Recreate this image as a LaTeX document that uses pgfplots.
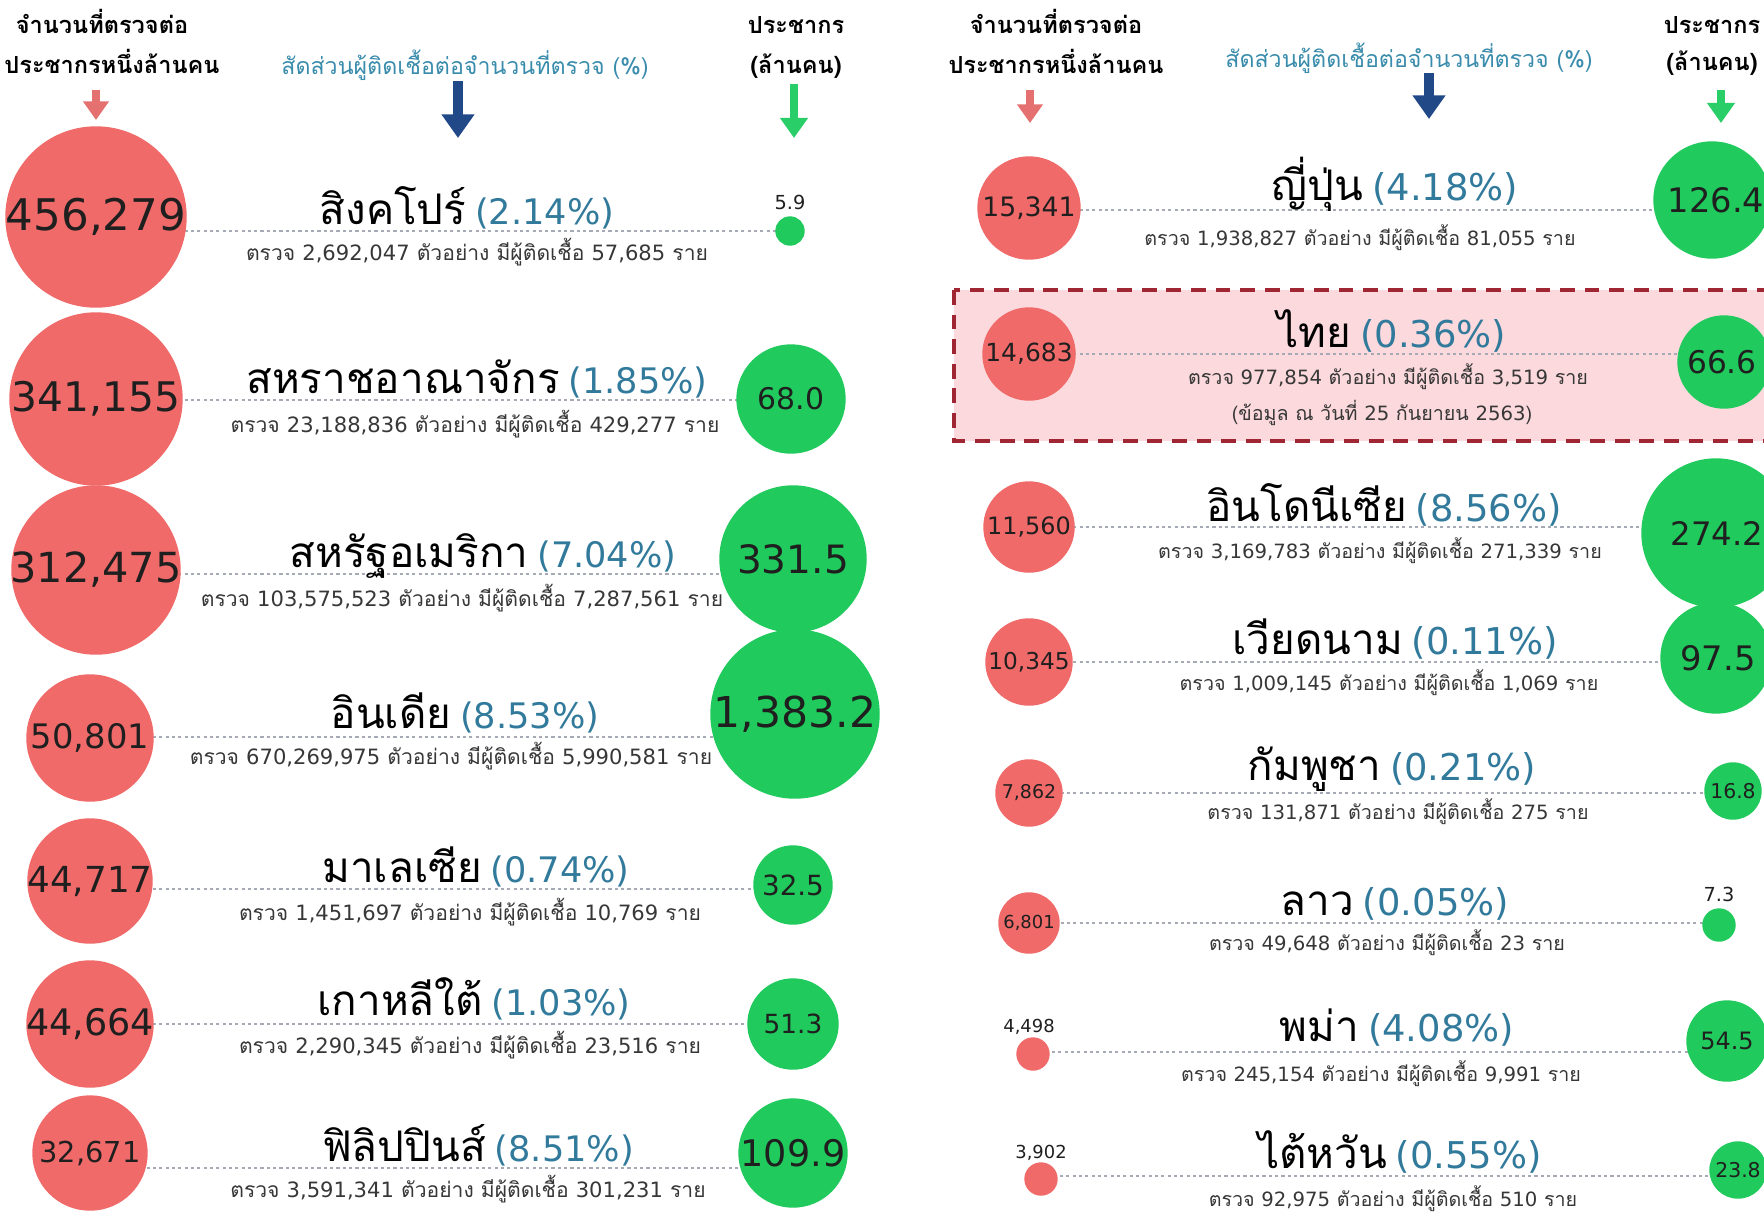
\documentclass[border=0pt]{standalone}
\usepackage{fontspec}
\usepackage{pgfplots}
\pgfplotsset{compat=1.18}
\usepackage{pgfplotstable}
\usetikzlibrary{arrows.meta}
\setmainfont{DejaVu Sans}
\newfontfamily\thaifont[Script=Thai]{Loma}
\newfontfamily\dvfont{DejaVu Sans}

\definecolor{redb}{RGB}{241,106,106}
\definecolor{greenb}{RGB}{32,202,92}
\definecolor{arrred}{RGB}{229,112,112}
\definecolor{arrblue}{RGB}{33,72,135}
\definecolor{arrgreen}{RGB}{42,206,104}
\definecolor{pctc}{RGB}{50,122,155}
\definecolor{hdrc}{RGB}{58,140,172}
\definecolor{boxfill}{RGB}{251,217,220}
\definecolor{boxline}{RGB}{160,38,52}
\definecolor{dotc}{RGB}{165,170,180}
\definecolor{subc}{RGB}{55,55,55}

\newcommand{\hdr}{\fontsize{6.7}{8}\thaifont\bfseries}
\newcommand{\hdrm}{\fontsize{6.6}{8}\thaifont}
\newcommand{\nmL}[2]{{\fontsize{12}{14}\thaifont #1}\hspace{0.25em}{\fontsize{10}{12}\dvfont\color{pctc}(#2\%)}}
\newcommand{\nmR}[2]{{\fontsize{12}{14}\thaifont #1}\hspace{0.25em}{\fontsize{10.5}{12}\dvfont\color{pctc}(#2\%)}}
\newcommand{\subL}[2]{{\fontsize{6}{7}\thaifont\color{subc}ตรวจ {\dvfont #1} ตัวอย่าง มีผู้ติดเชื้อ {\dvfont #2} ราย}}
\newcommand{\subR}[2]{{\fontsize{5.6}{7}\thaifont\color{subc}ตรวจ {\dvfont #1} ตัวอย่าง มีผู้ติดเชื้อ {\dvfont #2} ราย}}

% bubbles: x y r (pixels)
\pgfplotstableread{
x y r
96 217 90
96 399 86
96 570 84
90 738 63
90 881 62
90 1024 63
90 1153 57
}\redL
\pgfplotstableread{
x y fs lab
96 217 12.4 456,279
96 399 11.6 341,155
96 570 11.8 312,475
90 738 9.6 50,801
90 881 10.2 44,717
90 1024 10.4 44,664
90 1153 8.2 32,671
}\redLlab
\pgfplotstableread{
x y r
790 231 14
791 399 54
793 559 73
795 714 84
793 885 39
793 1024 45
793 1153 54
}\greenL
\pgfplotstableread{
x y fs lab
790 202 5.5 5.9
791 399 8.5 68.0
793 559 11.1 331.5
795 714 12.1 1,383.2
793 885 7.9 32.5
793 1024 7.5 51.3
793 1153 10.4 109.9
}\greenLlab
\pgfplotstableread{
x y r
1029 208 51
1029 354 46
1029 527 45
1029 662 43
1029 793 33
1029 923 30
1033 1054 16
1041 1179 16
}\redR
\pgfplotstableread{
x y fs lab
1029 208 7.6 15,341
1029 354 7.1 14,683
1029 527 6.8 11,560
1029 662 6.6 10,345
1029 793 5.4 7,862
1029 923 5.1 6,801
1029 1027 5.1 4,498
1041 1153 5.1 3,902
}\redRlab
\pgfplotstableread{
x y r
1712 200 58
1724 362 46
1716 533 74
1716 658 55
1733 791 28
1719 925 16
1727 1041 40
1738 1170 28
}\greenR
\pgfplotstableread{
x y fs lab
1716 200 9.6 126.4
1722 362 8.9 66.6
1717 533 9.2 274.2
1718 658 9.6 97.5
1733 791 5.8 16.8
1719 894 5.5 7.3
1727 1041 6.8 54.5
1738 1170 5.8 23.8
}\greenRlab

\pgfplotsset{
  bubble/.style={scatter, only marks, mark=*, point meta=\thisrow{r},
    scatter/use mapped color={draw=#1, fill=#1},
    visualization depends on={\thisrow{r}\as\rr},
    scatter/@pre marker code/.append style={/tikz/mark size=\rr*0.28453pt}},
  lbl/.style={only marks, mark=none, point meta=explicit symbolic,
    visualization depends on={\thisrow{fs}\as\lfs},
    nodes near coords,
    every node near coord/.append style={anchor=center, inner sep=0pt, text=black!88,
      font=\dvfont\fontsize{\lfs}{\lfs}\selectfont}},
  dotl/.style={dotc, line width=0.6pt, dash pattern=on 0.9pt off 0.9pt},
  arr/.style={line width=#1, -{Triangle[width=3.2*#1, length=2.4*#1]}},
}

\begin{document}
\begin{tikzpicture}
\begin{axis}[width=17.64cm, height=12.15cm, scale only axis,
  xmin=0, xmax=1764, ymin=0, ymax=1215, y dir=reverse,
  hide axis, clip=true]
\coordinate (pSW) at (axis cs:0,1215);
\coordinate (pNE) at (axis cs:1764,0);

% highlighted Thailand box
\draw[boxline, fill=boxfill, line width=0.9pt, dash pattern=on 4.2pt off 2.8pt]
  (axis cs:954,290) rectangle (axis cs:1790,441);

% header arrows
\addplot[arrred, arr=2.2pt] coordinates {(96,90) (96,120)};
\addplot[arrblue, arr=2.8pt] coordinates {(458,81) (458,138)};
\addplot[arrgreen, arr=2.4pt] coordinates {(794,84) (794,138)};
\addplot[arrred, arr=2.2pt] coordinates {(1030,90) (1030,123)};
\addplot[arrblue, arr=2.8pt] coordinates {(1429,73) (1429,119)};
\addplot[arrgreen, arr=2.4pt] coordinates {(1721,90) (1721,123)};

% dotted connectors
\addplot[dotl] coordinates {(96,231) (791,231)};
\addplot[dotl] coordinates {(96,400) (791,400)};
\addplot[dotl] coordinates {(96,574) (791,574)};
\addplot[dotl] coordinates {(96,737) (791,737)};
\addplot[dotl] coordinates {(96,889) (791,889)};
\addplot[dotl] coordinates {(96,1024) (791,1024)};
\addplot[dotl] coordinates {(96,1168) (791,1168)};
\addplot[dotl] coordinates {(1029,210) (1720,210)};
\addplot[dotl] coordinates {(1029,354) (1720,354)};
\addplot[dotl] coordinates {(1029,527) (1720,527)};
\addplot[dotl] coordinates {(1029,662) (1720,662)};
\addplot[dotl] coordinates {(1029,793) (1720,793)};
\addplot[dotl] coordinates {(1029,923) (1720,923)};
\addplot[dotl] coordinates {(1033,1052) (1720,1052)};
\addplot[dotl] coordinates {(1041,1176) (1720,1176)};

% bubbles
\addplot[bubble=redb] table {\redL};
\addplot[bubble=greenb] table {\greenL};
\addplot[bubble=redb] table {\redR};
\addplot[bubble=greenb] table {\greenR};

% bubble labels
\addplot[lbl] table[meta=lab] {\redLlab};
\addplot[lbl] table[meta=lab] {\greenLlab};
\addplot[lbl] table[meta=lab] {\redRlab};
\addplot[lbl] table[meta=lab] {\greenRlab};

% headers
\node[anchor=base, font=\hdr] at (axis cs:102,33) {จำนวนที่ตรวจต่อ};
\node[anchor=base, font=\hdr] at (axis cs:112,73) {ประชากรหนึ่งล้านคน};
\node[anchor=base, font=\hdrm, text=hdrc] at (axis cs:465,74) {สัดส่วนผู้ติดเชื้อต่อจำนวนที่ตรวจ (\%)};
\node[anchor=base, font=\hdr] at (axis cs:796,33) {ประชากร};
\node[anchor=base, font=\hdr] at (axis cs:796,73) {(ล้านคน)};
\node[anchor=base, font=\hdr] at (axis cs:1056,33) {จำนวนที่ตรวจต่อ};
\node[anchor=base, font=\hdr] at (axis cs:1056,73) {ประชากรหนึ่งล้านคน};
\node[anchor=base, font=\hdrm, text=hdrc] at (axis cs:1409,67) {สัดส่วนผู้ติดเชื้อต่อจำนวนที่ตรวจ (\%)};
\node[anchor=base, font=\hdr] at (axis cs:1712,33) {ประชากร};
\node[anchor=base, font=\hdr] at (axis cs:1712,70) {(ล้านคน)};

% left names
\node[anchor=base] at (axis cs:467,224) {\nmL{สิงคโปร์}{2.14}};
\node[anchor=base] at (axis cs:477,260) {\subL{2,692,047}{57,685}};
\node[anchor=base] at (axis cs:477,393) {\nmL{สหราชอาณาจักร}{1.85}};
\node[anchor=base] at (axis cs:475,432) {\subL{23,188,836}{429,277}};
\node[anchor=base] at (axis cs:483,567) {\nmL{สหรัฐอเมริกา}{7.04}};
\node[anchor=base] at (axis cs:462,606) {\subL{103,575,523}{7,287,561}};
\node[anchor=base] at (axis cs:465,728) {\nmL{อินเดีย}{8.53}};
\node[anchor=base] at (axis cs:451,764) {\subL{670,269,975}{5,990,581}};
\node[anchor=base] at (axis cs:476,882) {\nmL{มาเลเซีย}{0.74}};
\node[anchor=base] at (axis cs:470,920) {\subL{1,451,697}{10,769}};
\node[anchor=base] at (axis cs:474,1015) {\nmL{เกาหลีใต้}{1.03}};
\node[anchor=base] at (axis cs:470,1053) {\subL{2,290,345}{23,516}};
\node[anchor=base] at (axis cs:478,1161) {\nmL{ฟิลิปปินส์}{8.51}};
\node[anchor=base] at (axis cs:468,1197) {\subL{3,591,341}{301,231}};

% right names
\node[anchor=base] at (axis cs:1395,200) {\nmR{ญี่ปุ่น}{4.18}};
\node[anchor=base] at (axis cs:1360,245) {\subR{1,938,827}{81,055}};
\node[anchor=base] at (axis cs:1392,347) {\nmR{ไทย}{0.36}};
\node[anchor=base] at (axis cs:1388,384) {\subR{977,854}{3,519}};
\node[anchor=base, font=\fontsize{5.6}{7}\thaifont, text=subc] at (axis cs:1382,420) {(ข้อมูล ณ วันที่ {\dvfont 25} กันยายน {\dvfont 2563})};
\node[anchor=base] at (axis cs:1384,521) {\nmR{อินโดนีเซีย}{8.56}};
\node[anchor=base] at (axis cs:1380,558) {\subR{3,169,783}{271,339}};
\node[anchor=base] at (axis cs:1395,654) {\nmR{เวียดนาม}{0.11}};
\node[anchor=base] at (axis cs:1389,690) {\subR{1,009,145}{1,069}};
\node[anchor=base] at (axis cs:1392,780) {\nmR{กัมพูชา}{0.21}};
\node[anchor=base] at (axis cs:1398,819) {\subR{131,871}{275}};
\node[anchor=base] at (axis cs:1395,915) {\nmR{ลาว}{0.05}};
\node[anchor=base] at (axis cs:1387,950) {\subR{49,648}{23}};
\node[anchor=base] at (axis cs:1397,1041) {\nmR{พม่า}{4.08}};
\node[anchor=base] at (axis cs:1381,1081) {\subR{245,154}{9,991}};
\node[anchor=base] at (axis cs:1400,1168) {\nmR{ไต้หวัน}{0.55}};
\node[anchor=base] at (axis cs:1393,1206) {\subR{92,975}{510}};
\end{axis}
\pgfresetboundingbox
\path[use as bounding box] (pSW) rectangle (pNE);
\end{tikzpicture}
\end{document}
